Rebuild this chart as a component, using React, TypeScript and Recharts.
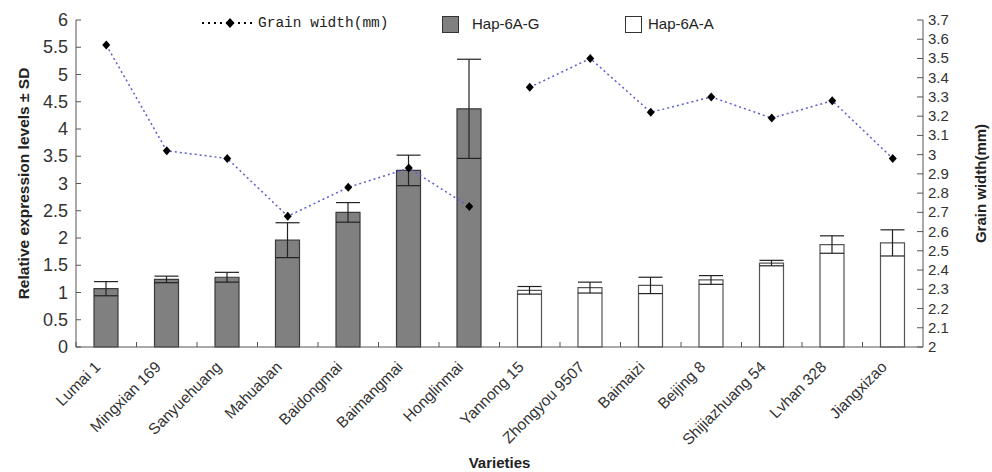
import { ComposedChart, Bar, Line, XAxis, YAxis, ErrorBar, Cell, Label } from "recharts"

const varieties = [
  "Lumai 1", "Mingxian 169", "Sanyuehuang", "Mahuaban", "Baidongmai", "Baimangmai", "Honglinmai",
  "Yannong 15", "Zhongyou 9507", "Baimaizi", "Beijing 8", "Shijiazhuang 54", "Lvhan 328", "Jiangxizao",
]
const haplotype = ["G", "G", "G", "G", "G", "G", "G", "A", "A", "A", "A", "A", "A", "A"]
const expression = [1.07, 1.24, 1.28, 1.96, 2.47, 3.24, 4.37, 1.04, 1.09, 1.13, 1.23, 1.54, 1.88, 1.91]
const expressionSd = [0.13, 0.06, 0.09, 0.32, 0.18, 0.28, 0.91, 0.07, 0.1, 0.15, 0.08, 0.05, 0.16, 0.24]
const grainWidth = [3.57, 3.02, 2.98, 2.68, 2.83, 2.93, 2.73, 3.35, 3.5, 3.22, 3.3, 3.19, 3.28, 2.98]

const leftTicks = [0, 0.5, 1, 1.5, 2, 2.5, 3, 3.5, 4, 4.5, 5, 5.5, 6]
const rightTicks = [2, 2.1, 2.2, 2.3, 2.4, 2.5, 2.6, 2.7, 2.8, 2.9, 3, 3.1, 3.2, 3.3, 3.4, 3.5, 3.6, 3.7]

const data = varieties.map((name, i) => ({
  name,
  expr: expression[i],
  sd: expressionSd[i],
  widthG: haplotype[i] === "G" ? grainWidth[i] : null,
  widthA: haplotype[i] === "A" ? grainWidth[i] : null,
}))

const SANS = "'Liberation Sans', Arial, sans-serif"
const AXIS = "#555"
const BAND = 847 / 14

function LeftTick({ x, y, payload }: any) {
  return (
    <g>
      <line x1={x + 8} x2={x + 13} y1={y} y2={y} stroke={AXIS} />
      <text x={x} y={y} dy={6} textAnchor="end" fontSize={18} fill="#333" fontFamily={SANS}>
        {payload.value}
      </text>
    </g>
  )
}

function RightTick({ x, y, payload }: any) {
  return (
    <g>
      <line x1={x - 5} x2={x - 11} y1={y} y2={y} stroke={AXIS} />
      <text x={x} y={y} dy={5} textAnchor="start" fontSize={15} fill="#333" fontFamily={SANS}>
        {payload.value}
      </text>
    </g>
  )
}

function CategoryTick({ x, y, payload }: any) {
  const tx = x - 5
  const ty = y + 21
  return (
    <g>
      <line x1={x - BAND / 2} x2={x - BAND / 2} y1={y} y2={y - 5} stroke={AXIS} />
      <text x={tx} y={ty} transform={`rotate(-45, ${tx}, ${ty})`} textAnchor="end" fontSize={15.5} fill="#333" fontFamily={SANS}>
        {payload.value}
      </text>
    </g>
  )
}

function Diamond({ cx, cy }: any) {
  if (cx == null || cy == null) return null
  return <polygon points={`${cx},${cy - 4.5} ${cx + 4},${cy} ${cx},${cy + 4.5} ${cx - 4},${cy}`} fill="#000" />
}

function ChartLegend() {
  const item: React.CSSProperties = { position: "absolute", fontFamily: SANS, fontSize: 15, color: "#222", lineHeight: "16px" }
  return (
    <div style={{ position: "absolute", left: 0, top: 0, width: 992, height: 40, pointerEvents: "none" }}>
      <svg style={{ position: "absolute", left: 198, top: 14 }} width={60} height={18}>
        <line x1={4} x2={56} y1={9} y2={9} stroke="#000" strokeWidth={2} strokeDasharray="2 4" />
        <polygon points="32,4 36.5,9 32,14 27.5,9" fill="#000" />
      </svg>
      <div style={{ ...item, left: 258, top: 15, fontFamily: "'Liberation Mono', monospace", fontSize: 14.5 }}>Grain width(mm)</div>
      <div style={{ position: "absolute", left: 442, top: 16, width: 15, height: 15, background: "#808080", border: "1px solid #333" }} />
      <div style={{ ...item, left: 472, top: 16 }}>Hap-6A-G</div>
      <div style={{ position: "absolute", left: 625, top: 16, width: 15, height: 15, background: "#fff", border: "1px solid #333" }} />
      <div style={{ ...item, left: 648, top: 16 }}>Hap-6A-A</div>
    </div>
  )
}

export default function App() {
  return (
    <div style={{ position: "absolute", left: 0, top: 0, width: 992, height: 472, background: "#fff" }}>
      <ComposedChart width={992} height={472} data={data} margin={{ top: 20, right: 14, bottom: 0, left: 16 }}>
        <XAxis
          dataKey="name"
          xAxisId="cat"
          height={125}
          interval={0}
          tickLine={false}
          tickSize={0}
          tickMargin={0}
          stroke={AXIS}
          tick={<CategoryTick />}
        >
          <Label value="Varieties" position="insideBottom" offset={4} style={{ fontFamily: SANS, fontSize: 15, fontWeight: "bold", fill: "#222" }} />
        </XAxis>
        <YAxis
          yAxisId="left"
          domain={[0, 6]}
          ticks={leftTicks}
          width={60}
          tickLine={false}
          tickSize={0}
          tickMargin={8}
          stroke={AXIS}
          tick={<LeftTick />}
          interval={0}
        >
          <Label
            value="Relative expression levels ± SD"
            angle={-90}
            position="insideLeft"
            offset={7}
            style={{ textAnchor: "middle", fontFamily: SANS, fontSize: 15.5, fontWeight: "bold", fill: "#222" }}
          />
        </YAxis>
        <YAxis
          yAxisId="right"
          orientation="right"
          domain={[2, 3.7]}
          ticks={rightTicks}
          width={55}
          tickLine={false}
          tickSize={0}
          tickMargin={5}
          stroke={AXIS}
          tick={<RightTick />}
          interval={0}
        >
          <Label
            value="Grain width(mm)"
            angle={-90}
            position="insideRight"
            offset={-3}
            style={{ textAnchor: "middle", fontFamily: SANS, fontSize: 15, fontWeight: "bold", fill: "#222" }}
          />
        </YAxis>
        <Bar dataKey="expr" xAxisId="cat" yAxisId="left" barSize={24} isAnimationActive={false}>
          {data.map((d, i) => (
            <Cell
              key={d.name}
              fill={haplotype[i] === "G" ? "#808080" : "#ffffff"}
              stroke={haplotype[i] === "G" ? "#3a3a3a" : "#555"}
              strokeWidth={1.2}
            />
          ))}
          <ErrorBar dataKey="sd" width={12} stroke="#222" strokeWidth={1.2} direction="y" />
        </Bar>
        <Line
          dataKey="widthG"
          xAxisId="cat"
          yAxisId="right"
          stroke="#5c5cd0"
          strokeWidth={1.5}
          strokeDasharray="2 3"
          dot={<Diamond />}
          activeDot={false}
          connectNulls={false}
          isAnimationActive={false}
        />
        <Line
          dataKey="widthA"
          xAxisId="cat"
          yAxisId="right"
          stroke="#5c5cd0"
          strokeWidth={1.5}
          strokeDasharray="2 3"
          dot={<Diamond />}
          activeDot={false}
          connectNulls={false}
          isAnimationActive={false}
        />
      </ComposedChart>
      <ChartLegend />
    </div>
  )
}
